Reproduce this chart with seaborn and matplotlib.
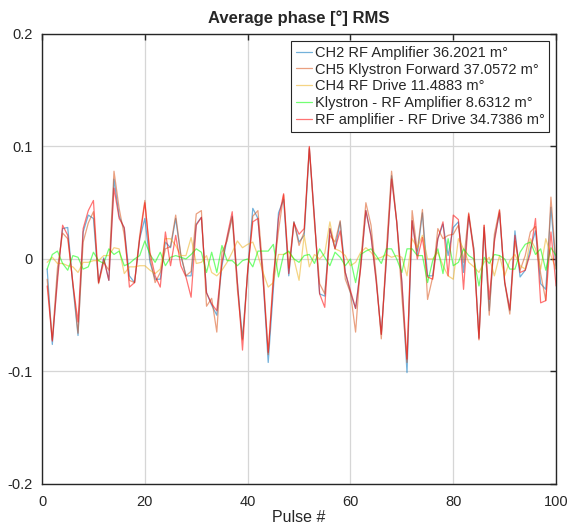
import numpy as np
import pandas as pd
import seaborn as sns
import matplotlib
matplotlib.use("Agg")
import matplotlib.pyplot as plt
from matplotlib.ticker import FuncFormatter

# values (pulse 1..100), in degrees
pulse = list(range(1, 101))

ch2_rf_amp = [
    -0.009, -0.076, -0.015, 0.027, 0.028, -0.024, -0.068, 0.024, 0.039, 0.036,
    -0.021, 0.001, -0.019, 0.071, 0.038, 0.027, -0.015, -0.021, 0.018, 0.036,
    -0.003, -0.018, -0.018, 0.015, 0.010, 0.036, 0.003, -0.015, -0.015, 0.031,
    0.037, -0.030, -0.041, -0.050, -0.006, 0.018, 0.038, -0.021, -0.071, -0.012,
    0.045, 0.036, -0.018, -0.092, -0.027, 0.041, 0.053, -0.015, 0.033, 0.015,
    0.021, 0.098, 0.036, -0.031, -0.033, 0.027, 0.009, 0.033, -0.012, -0.030,
    -0.044, -0.006, 0.043, 0.021, -0.018, -0.067, 0.000, 0.074, 0.033, -0.021,
    -0.101, 0.034, 0.004, 0.041, -0.015, -0.015, 0.018, 0.031, 0.003, 0.028,
    0.033, -0.012, 0.038, 0.009, -0.070, 0.028, -0.046, 0.018, 0.041, -0.021,
    -0.046, 0.025, -0.016, -0.010, 0.009, 0.025, -0.022, -0.027, 0.046, -0.009,
]

ch5_kly_fwd = [
    -0.018, -0.072, -0.008, 0.023, 0.018, -0.021, -0.066, 0.015, 0.032, 0.042,
    -0.022, -0.003, -0.010, 0.078, 0.045, 0.021, -0.019, -0.021, 0.021, 0.052,
    0.001, -0.021, -0.012, 0.009, 0.011, 0.039, 0.004, -0.015, -0.011, 0.040,
    0.043, -0.042, -0.035, -0.065, 0.006, 0.016, 0.037, -0.027, -0.072, -0.012,
    0.038, 0.043, -0.011, -0.085, -0.014, 0.025, 0.057, -0.008, 0.033, 0.012,
    0.024, 0.099, 0.032, -0.022, -0.031, 0.021, 0.015, 0.034, -0.018, -0.030,
    -0.065, -0.002, 0.050, 0.030, -0.015, -0.071, 0.009, 0.078, 0.033, -0.033,
    -0.092, 0.043, 0.007, 0.044, -0.036, -0.016, 0.027, 0.018, 0.021, 0.022,
    0.030, -0.003, 0.041, 0.009, -0.072, 0.030, -0.050, 0.022, 0.044, -0.021,
    -0.049, 0.016, -0.010, 0.003, 0.024, 0.029, -0.013, -0.037, 0.055, -0.006,
]

ch4_rf_drive = [
    -0.003, 0.0015, -0.004, -0.004, -0.006, -0.007, -0.012, -0.003, -0.003, -0.0015,
    -0.0015, 0.003, 0.003, 0.010, 0.009, -0.013, -0.007, -0.007, -0.006, -0.006,
    -0.010, -0.013, -0.009, 0.018, 0.018, 0.012, 0.003, 0.003, 0.019, -0.004,
    -0.003, 0.003, -0.012, -0.015, -0.010, -0.003, 0.006, 0.016, 0.010, 0.013,
    0.015, 0.003, -0.012, -0.025, -0.021, 0.004, 0.004, 0.006, 0.000, -0.019,
    0.021, -0.007, 0.004, 0.000, 0.005, 0.033, 0.009, 0.007, 0.003, -0.006,
    -0.003, 0.006, 0.010, 0.006, 0.000, 0.0015, 0.004, 0.0015, 0.003, 0.0015,
    -0.015, 0.018, 0.010, 0.021, 0.000, 0.000, 0.006, -0.006, -0.015, -0.018,
    0.018, 0.009, -0.003, -0.007, -0.012, -0.003, 0.0015, -0.015, 0.003, -0.015,
    -0.0015, 0.004, -0.006, -0.009, 0.018, 0.009, -0.009, 0.018, 0.003, -0.009,
]

kly_minus_amp = [
    -0.009, 0.004, 0.007, -0.004, -0.010, 0.003, 0.0015, -0.009, -0.007, 0.006,
    -0.0015, -0.004, 0.009, 0.004, 0.007, -0.006, -0.004, 0.000, 0.003, 0.016,
    0.004, -0.003, 0.006, -0.006, 0.0015, 0.003, 0.0015, 0.000, 0.004, 0.009,
    0.006, -0.012, 0.006, -0.012, 0.012, -0.0015, -0.0015, -0.006, -0.0015, 0.000,
    -0.007, 0.007, 0.007, 0.007, 0.013, -0.016, 0.004, 0.007, 0.000, -0.003,
    0.003, 0.004, -0.004, 0.009, 0.0015, -0.006, 0.006, 0.0015, -0.006, 0.000,
    -0.021, 0.004, 0.007, 0.009, 0.003, -0.004, 0.009, 0.009, 0.000, -0.012,
    0.009, 0.009, 0.003, 0.003, -0.021, -0.0015, 0.009, -0.013, 0.018, -0.006,
    -0.003, 0.009, 0.003, 0.000, -0.024, 0.0015, -0.004, 0.004, 0.003, 0.000,
    -0.009, -0.009, 0.006, 0.013, 0.015, 0.004, 0.009, -0.010, 0.010, 0.003,
]

amp_minus_drive = [
    -0.024, -0.073, -0.020, 0.030, 0.021, -0.022, -0.056, 0.027, 0.043, 0.052,
    -0.021, 0.000, -0.019, 0.063, 0.036, 0.028, -0.025, -0.021, 0.018, 0.050,
    0.006, -0.015, -0.025, 0.024, -0.006, 0.021, -0.006, -0.016, -0.034, 0.030,
    0.037, -0.030, -0.040, -0.046, -0.003, 0.020, 0.042, -0.020, -0.081, -0.010,
    0.033, 0.036, -0.018, -0.083, -0.020, 0.036, 0.058, -0.013, 0.032, 0.022,
    0.027, 0.100, 0.036, -0.031, -0.043, 0.027, 0.009, 0.025, -0.012, -0.028,
    -0.044, -0.008, 0.043, 0.020, -0.020, -0.067, 0.000, 0.071, 0.033, -0.020,
    -0.089, 0.034, 0.000, 0.019, -0.016, -0.018, 0.018, 0.033, -0.015, 0.039,
    0.035, -0.027, 0.040, 0.005, -0.071, 0.030, -0.036, 0.015, 0.043, -0.020,
    -0.045, 0.021, -0.012, -0.010, 0.005, 0.036, -0.039, -0.037, 0.024, -0.024,
]

labels = [
    "CH2 RF Amplifier 36.2021 m\u00b0",
    "CH5 Klystron Forward 37.0572 m\u00b0",
    "CH4 RF Drive 11.4883 m\u00b0",
    "Klystron - RF Amplifier 8.6312 m\u00b0",
    "RF amplifier - RF Drive 34.7386 m\u00b0",
]
series = [ch2_rf_amp, ch5_kly_fwd, ch4_rf_drive, kly_minus_amp, amp_minus_drive]
colors = ["#0072bd", "#d95319", "#edb120", "#00ff00", "#ff0000"]

# long form table for seaborn
frames = []
for lab, vals in zip(labels, series):
    frames.append(pd.DataFrame({"Pulse #": pulse, "phase": vals, "series": lab}))
df = pd.concat(frames, ignore_index=True)

sns.set_style("white")
plt.rcParams["font.family"] = ["Liberation Sans", "DejaVu Sans"]
plt.rcParams["axes.unicode_minus"] = False

fig = plt.figure(figsize=(5.68, 5.27), dpi=100)
ax = fig.add_axes([0.074, 0.0816, 0.905, 0.854])

sns.lineplot(data=df, x="Pulse #", y="phase", hue="series", hue_order=labels,
             palette=dict(zip(labels, colors)), linewidth=0.9, alpha=0.55,
             ax=ax, legend=False)

ax.set_xlim(0, 100)
ax.set_ylim(-0.2, 0.2)
ax.set_xticks([0, 20, 40, 60, 80, 100])
ax.set_yticks([-0.2, -0.1, 0, 0.1, 0.2])
ax.yaxis.set_major_formatter(FuncFormatter(lambda v, p: f"{v:g}"))
ax.grid(True, color="#d6d6d6", linewidth=0.9)
ax.set_axisbelow(True)
for s in ax.spines.values():
    s.set_color("#262626")
    s.set_linewidth(1.0)
ax.tick_params(direction="in", length=4, width=1, top=True, right=True,
               labelsize=10.5, colors="#262626")
ax.tick_params(axis="x", pad=8)
ax.tick_params(axis="y", pad=7)
ax.set_xlabel("Pulse #", fontsize=11.5, color="#262626", labelpad=1)
ax.set_ylabel("")
ax.set_title("Average phase [\u00b0] RMS", fontsize=12, fontweight="bold", pad=8)

handles = ax.get_lines()[:len(labels)]
leg = ax.legend(handles, labels, loc="upper right", fontsize=10.5,
                handlelength=1.1, handletextpad=0.2, labelspacing=0.2,
                borderpad=0.3, borderaxespad=0.5, fancybox=False,
                framealpha=1, edgecolor="#262626")
leg.get_frame().set_linewidth(0.8)

plt.savefig("out.png", dpi=100)
